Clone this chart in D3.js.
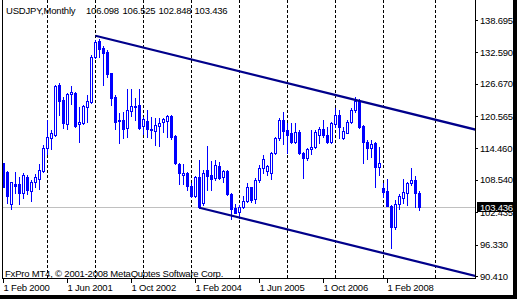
<!DOCTYPE html>
<html>
<head>
<meta charset="utf-8">
<script src="https://cdn.jsdelivr.net/npm/d3@7"></script>
<style>
  html, body { margin: 0; padding: 0; background: #fff; overflow: hidden; }
  svg { display: block; }
  text { font-family: "Liberation Sans", Arial, sans-serif; font-size: 9.5px; letter-spacing: -0.2px; }
</style>
</head>
<body>
<svg id="chart" width="517" height="299"></svg>
<script>
// monthly USDJPY bars, index 0 = Feb 2000
const title = 'USDJPY,Monthly'
const lastQuote = [106.098, 106.525, 102.848, 103.436]
const copyright = 'FxPro MT4, © 2001-2008 MetaQuotes Software Corp.'

const open = [
  111.66, 110.09, 103.99, 107.76, 107.76, 106.00, 109.15, 106.50, 108.08, 108.71,
  110.27, 114.49, 116.38, 117.00, 126.44, 123.61, 119.08, 124.67, 124.99, 119.02,
  119.33, 122.35, 123.29, 131.65, 134.73, 133.48, 132.60, 128.63, 124.23, 119.75,
  119.83, 118.39, 121.59, 122.35, 122.66, 118.77, 119.64, 118.14, 117.82, 118.77,
  119.52, 119.71, 120.65, 116.82, 111.53, 109.46, 109.78, 107.38, 105.50, 109.02,
  104.24, 110.40, 109.46, 108.83, 111.16, 109.02, 110.21, 105.81, 103.17, 102.48,
  103.49, 104.56, 107.13, 104.87, 108.52, 110.72, 110.15, 109.77, 113.55, 116.37,
  119.83, 117.95, 117.32, 115.75, 117.63, 113.67, 112.60, 114.30, 114.68, 117.00,
  118.07, 117.00, 115.75, 119.08, 120.78, 116.38, 117.44, 119.52, 121.72, 123.48,
  118.70, 115.75, 114.61, 115.44, 111.03, 106.95, 106.44, 103.61, 99.59, 103.99,
  105.07, 106.12, 107.89, 108.52, 106.098
]
const high = [
  111.79, 110.20, 108.20, 109.96, 109.15, 109.78, 109.46, 108.52, 109.59, 111.53,
  115.12, 119.83, 117.95, 126.44, 126.88, 124.23, 124.99, 126.25, 125.18, 122.35,
  122.66, 124.55, 132.09, 134.92, 135.05, 133.79, 133.04, 128.76, 124.55, 121.09,
  121.40, 125.62, 125.74, 123.92, 125.62, 120.34, 121.72, 120.46, 120.15, 120.27,
  120.27, 120.78, 120.78, 116.94, 111.66, 111.53, 110.09, 107.89, 109.27, 112.29,
  110.40, 114.93, 112.16, 112.29, 111.97, 110.40, 110.40, 106.00, 103.99, 103.80,
  105.50, 107.89, 107.26, 108.83, 111.35, 113.23, 111.35, 113.86, 116.69, 120.15,
  121.40, 119.33, 119.33, 119.33, 117.95, 113.86, 114.49, 117.95, 117.95, 118.45,
  119.83, 118.57, 119.52, 122.03, 121.72, 118.57, 119.83, 122.03, 124.11, 123.73,
  118.89, 116.06, 116.06, 115.60, 114.80, 108.01, 108.64, 103.80, 104.74, 105.90,
  108.65, 108.20, 110.72, 109.27, 106.525
]
const low = [
  107.13, 104.12, 103.05, 106.00, 103.93, 105.19, 105.88, 104.56, 107.26, 106.76,
  110.09, 113.36, 114.30, 116.82, 120.78, 118.39, 118.14, 122.85, 118.45, 115.75,
  119.08, 119.52, 123.10, 131.46, 131.65, 126.44, 128.01, 122.66, 118.14, 115.43,
  116.38, 116.69, 120.59, 119.83, 118.14, 117.19, 116.69, 116.38, 115.12, 114.99,
  117.63, 116.69, 116.19, 111.53, 107.76, 107.70, 106.63, 105.37, 105.37, 103.17,
  103.80, 106.63, 106.63, 108.52, 108.64, 108.20, 105.69, 101.10, 102.23, 101.29,
  103.17, 104.43, 104.43, 104.11, 108.20, 109.77, 109.46, 108.64, 113.42, 116.06,
  115.31, 113.67, 115.43, 115.56, 113.42, 108.96, 112.29, 113.42, 114.49, 115.56,
  116.69, 115.43, 115.56, 118.57, 116.38, 116.19, 117.32, 119.20, 121.40, 118.26,
  111.66, 112.41, 112.79, 107.25, 109.42, 105.40, 103.67, 95.75, 99.30, 103.00,
  104.12, 103.80, 107.57, 103.48, 102.848
]
const close = [
  107.26, 105.56, 108.08, 107.45, 106.00, 109.46, 106.63, 108.08, 109.08, 110.40,
  114.62, 116.57, 117.32, 126.25, 123.48, 119.33, 124.74, 125.11, 118.77, 119.39,
  122.47, 123.42, 131.65, 134.61, 133.16, 132.53, 128.45, 124.05, 119.52, 119.85,
  118.14, 121.72, 122.47, 122.47, 118.39, 119.96, 118.07, 117.95, 118.83, 119.21,
  119.96, 120.59, 116.69, 111.66, 109.90, 109.78, 107.38, 105.50, 109.02, 103.49,
  109.90, 109.27, 108.71, 111.35, 108.96, 110.21, 105.81, 102.98, 102.35, 103.49,
  104.56, 107.13, 104.74, 108.52, 110.72, 112.41, 111.09, 113.67, 116.37, 119.83,
  117.82, 117.00, 115.75, 117.63, 113.67, 112.60, 114.30, 114.80, 117.63, 118.07,
  117.00, 115.75, 119.20, 120.78, 118.57, 117.82, 119.52, 121.72, 123.48, 118.57,
  115.75, 114.49, 115.30, 111.03, 111.78, 106.31, 103.67, 99.71, 103.99, 105.50,
  106.31, 108.01, 108.52, 106.12, 103.436
]

// axis labels
const priceTicks = [138.695, 132.590, 126.670, 120.565, 114.460, 108.540, 102.435, 96.330, 90.410]
const timeTickIdx = [0, 16, 32, 48, 64, 80, 96]
const timeTickLabels = ['1 Feb 2000', '1 Jun 2001', '1 Oct 2002', '1 Feb 2004', '1 Jun 2005', '1 Oct 2006', '1 Feb 2008']
const gridIdx = [11, 23, 35, 47, 59, 71, 83, 95, 108]

// equidistant channel: [bar index, price]
const channelUpper = [[23, 135.73], [118, 118.02]]
const channelLower = [[49, 103.29], [118, 90.43]]

const plot = { left: 2, right: 475, top: 0, bottom: 278 }
const svg = d3.select('#chart')

const x = d3.scaleLinear().domain([0, 104]).range([3.5, 419.5])
const y = d3.scaleLinear().domain([90.41, 138.695]).range([276, 20])

const px = i => Math.floor(x(i))
const py = v => Math.round(y(v))

svg.append('defs').append('clipPath').attr('id', 'plotclip')
  .append('rect')
  .attr('x', plot.left + 1).attr('y', plot.top)
  .attr('width', plot.right - plot.left - 1).attr('height', plot.bottom - plot.top)

// header + copyright
svg.append('text').attr('x', 6).attr('y', 14).text(title)
const quoteX = [86, 122.5, 158.5, 194.5]
svg.selectAll('.quote')
  .data(lastQuote)
  .enter()
  .append('text')
  .attr('class', 'quote')
  .attr('x', (d, i) => quoteX[i])
  .attr('y', 14)
  .text(d => d.toFixed(3))

svg.append('text').attr('x', 5).attr('y', 276.5).text(copyright)

// vertical dashed grid
svg.selectAll('.grid')
  .data(gridIdx)
  .enter()
  .append('line')
  .attr('class', 'grid')
  .attr('x1', d => px(d) + 0.5)
  .attr('x2', d => px(d) + 0.5)
  .attr('y1', plot.top)
  .attr('y2', plot.bottom)
  .attr('stroke', '#000')
  .attr('stroke-width', 1)
  .attr('stroke-dasharray', '3,2')
  .attr('shape-rendering', 'crispEdges')

// current price line
svg.append('line')
  .attr('x1', plot.left).attr('x2', plot.right)
  .attr('y1', py(lastQuote[3]) + 0.5).attr('y2', py(lastQuote[3]) + 0.5)
  .attr('stroke', '#c0c0c0')
  .attr('shape-rendering', 'crispEdges')

// candles
const bars = d3.range(open.length)
const g = svg.append('g').attr('clip-path', 'url(#plotclip)')

g.selectAll('.wick')
  .data(bars)
  .enter()
  .append('line')
  .attr('class', 'wick')
  .attr('x1', i => px(i) + 0.5)
  .attr('x2', i => px(i) + 0.5)
  .attr('y1', i => py(high[i]))
  .attr('y2', i => py(low[i]) + 1)
  .attr('stroke', '#0000ff')
  .attr('shape-rendering', 'crispEdges')

g.selectAll('.body')
  .data(bars)
  .enter()
  .append('rect')
  .attr('class', 'body')
  .each(function(i) {
    const up = close[i] >= open[i]
    const top = py(Math.max(open[i], close[i]))
    const bot = py(Math.min(open[i], close[i]))
    const r = d3.select(this).attr('shape-rendering', 'crispEdges')
    if (up) {
      r.attr('x', px(i) - 0.5).attr('width', 2)
        .attr('y', top + 0.5).attr('height', Math.max(bot - top, 1))
        .attr('fill', '#fff').attr('stroke', '#0000ff').attr('stroke-width', 1)
    } else {
      r.attr('x', px(i) - 1).attr('width', 3)
        .attr('y', top).attr('height', Math.max(bot - top + 1, 1))
        .attr('fill', '#0000ff')
    }
  })

// channel lines
const line = d3.line().x(d => x(d[0])).y(d => y(d[1]))
g.selectAll('.channel')
  .data([channelUpper, channelLower])
  .enter()
  .append('path')
  .attr('class', 'channel')
  .attr('d', line)
  .attr('fill', 'none')
  .attr('stroke', '#00008b')
  .attr('stroke-width', 2.2)

// frame
const frame = svg.append('g').attr('stroke', '#000').attr('shape-rendering', 'crispEdges')
frame.append('line').attr('x1', plot.left + 0.5).attr('x2', plot.left + 0.5).attr('y1', 0).attr('y2', plot.bottom + 1)
frame.append('line').attr('x1', plot.right + 0.5).attr('x2', plot.right + 0.5).attr('y1', 0).attr('y2', plot.bottom + 1)
frame.append('line').attr('x1', plot.left).attr('x2', plot.right + 1).attr('y1', plot.bottom + 0.5).attr('y2', plot.bottom + 0.5)

// price axis
svg.selectAll('.ptick')
  .data(priceTicks)
  .enter()
  .append('line')
  .attr('class', 'ptick')
  .attr('x1', plot.right).attr('x2', plot.right + 3)
  .attr('y1', d => py(d) + 0.5).attr('y2', d => py(d) + 0.5)
  .attr('stroke', '#000')
  .attr('shape-rendering', 'crispEdges')

svg.selectAll('.plabel')
  .data(priceTicks)
  .enter()
  .append('text')
  .attr('class', 'plabel')
  .attr('x', 480)
  .attr('y', d => y(d) + 3.6)
  .text(d => d.toFixed(3))

// current price marker
svg.append('rect')
  .attr('x', 477).attr('y', py(lastQuote[3]) - 5)
  .attr('width', 40).attr('height', 10)
  .attr('fill', '#000')
svg.append('text')
  .attr('x', 480).attr('y', y(lastQuote[3]) + 3.6)
  .attr('fill', '#fff')
  .text(lastQuote[3].toFixed(3))

// time axis
svg.selectAll('.ttick')
  .data(timeTickIdx)
  .enter()
  .append('line')
  .attr('class', 'ttick')
  .attr('x1', d => px(d) + 0.5).attr('x2', d => px(d) + 0.5)
  .attr('y1', plot.bottom + 1).attr('y2', plot.bottom + 5)
  .attr('stroke', '#000')
  .attr('shape-rendering', 'crispEdges')

svg.selectAll('.tlabel')
  .data(timeTickIdx)
  .enter()
  .append('text')
  .attr('class', 'tlabel')
  .attr('x', d => px(d) + 0.5)
  .attr('y', 291)
  .text((d, i) => timeTickLabels[i])

// window edge
svg.append('rect').attr('x', 513).attr('y', 0).attr('width', 4).attr('height', 299).attr('fill', '#000')
svg.append('rect').attr('x', 0).attr('y', 295).attr('width', 517).attr('height', 4).attr('fill', '#000')
</script>
</body>
</html>
